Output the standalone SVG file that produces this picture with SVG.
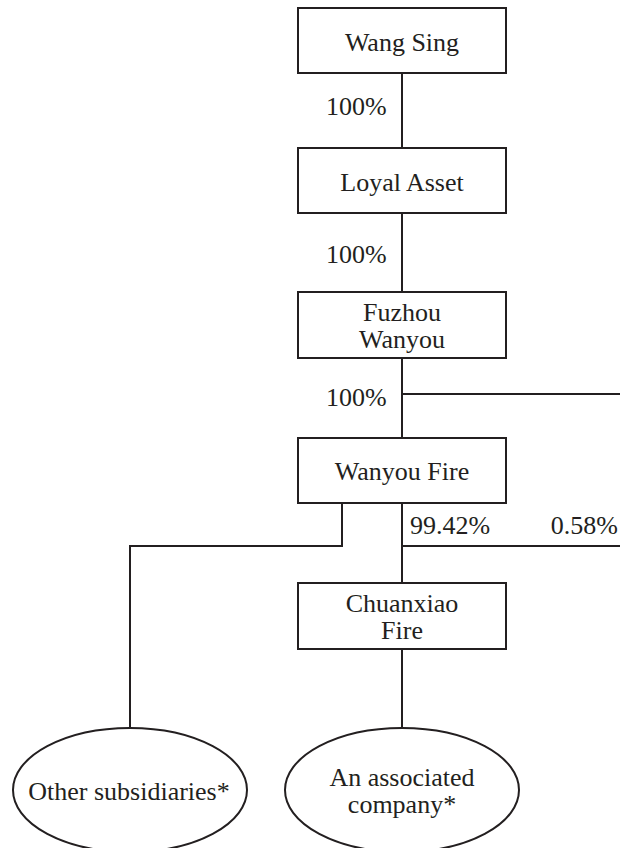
<svg xmlns="http://www.w3.org/2000/svg" width="620" height="848" viewBox="0 0 620 848">
<style>
.box{fill:#fff;stroke:#231f20;stroke-width:2}
.ln{fill:none;stroke:#231f20;stroke-width:2}
.c{text-anchor:middle}
</style>
<rect width="620" height="848" fill="#fff"/>
<g font-family="Liberation Serif, Times New Roman, DejaVu Serif, serif" font-size="26" fill="#231f20">
<g id="connectors">
<line class="ln" x1="402" y1="73" x2="402" y2="148"/>
<line class="ln" x1="402" y1="213" x2="402" y2="292"/>
<line class="ln" x1="402" y1="358" x2="402" y2="438"/>
<line class="ln" x1="402" y1="394" x2="620" y2="394"/>
<polyline class="ln" points="342,503 342,546 130,546 130,729"/>
<line class="ln" x1="402" y1="503" x2="402" y2="583"/>
<line class="ln" x1="402" y1="546" x2="620" y2="546"/>
<line class="ln" x1="402" y1="649" x2="402" y2="728"/>
<text x="326" y="115">100%</text>
<text x="326" y="263">100%</text>
<text x="326" y="406">100%</text>
<text x="410" y="534">99.42%</text>
<text x="618" y="534" text-anchor="end">0.58%</text>
</g>
<g id="wang-sing"><rect class="box" x="298" y="8" width="208" height="65"/><text class="c" x="402" y="51">Wang Sing</text></g>
<g id="loyal-asset"><rect class="box" x="298" y="148" width="208" height="65"/><text class="c" x="402" y="191">Loyal Asset</text></g>
<g id="fuzhou-wanyou"><rect class="box" x="298" y="292" width="208" height="66"/><text class="c" x="402" y="321">Fuzhou</text><text class="c" x="402" y="348">Wanyou</text></g>
<g id="wanyou-fire"><rect class="box" x="298" y="438" width="208" height="65"/><text class="c" x="402" y="480">Wanyou Fire</text></g>
<g id="chuanxiao-fire"><rect class="box" x="298" y="583" width="208" height="66"/><text class="c" x="402" y="612">Chuanxiao</text><text class="c" x="402" y="639">Fire</text></g>
<g id="other-subsidiaries"><ellipse class="box" cx="130" cy="790" rx="117" ry="62"/><text class="c" x="129" y="800">Other subsidiaries*</text></g>
<g id="associated-company"><ellipse class="box" cx="402" cy="790" rx="117" ry="62"/><text class="c" x="402" y="786">An associated</text><text class="c" x="402" y="813">company*</text></g>
</g>
</svg>
